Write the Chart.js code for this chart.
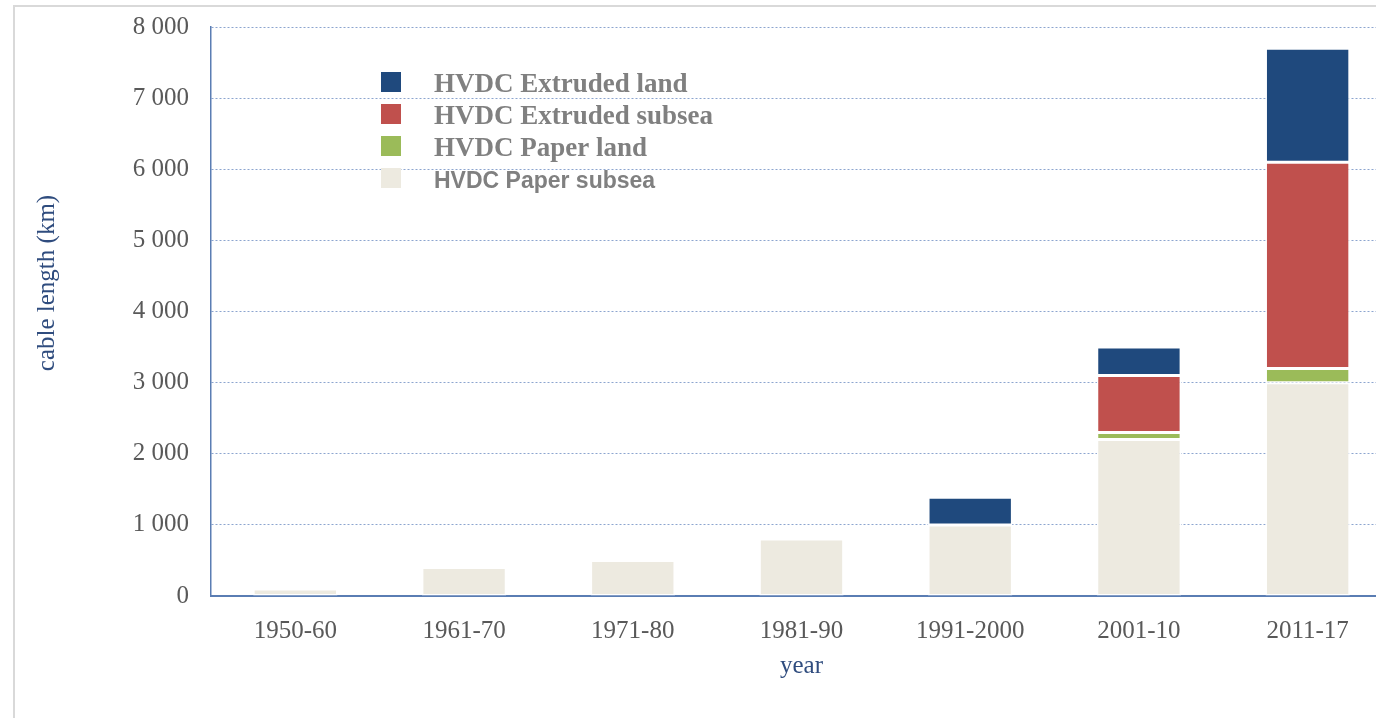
<!DOCTYPE html>
<html>
<head>
<meta charset="utf-8">
<title>HVDC cable length</title>
<script src="https://cdn.jsdelivr.net/npm/chart.js@4.4.1/dist/chart.umd.min.js"></script>
<style>
  html, body { margin: 0; padding: 0; background: #fff; overflow: hidden; }
  #frame { position: absolute; left: 13px; top: 5px; right: -10px; bottom: -10px;
           border-left: 2px solid #d9d9d9; border-top: 2px solid #d9d9d9; }
  #chart { position: absolute; left: 0; top: 0; }
</style>
</head>
<body>
<div id="frame"></div>
<canvas id="chart" width="1395" height="718"></canvas>
<script>
// Data (km)
const categories = ['1950-60', '1961-70', '1971-80', '1981-90', '1991-2000', '2001-10', '2011-17'];
const paperSubsea    = [100, 400, 500, 800, 1000, 2200, 3000];
const paperLand      = [0, 0, 0, 0, 0, 100, 200];
const extrudedSubsea = [0, 0, 0, 0, 0, 800, 2900];
const extrudedLand   = [0, 0, 0, 0, 390, 400, 1600];
const yTickValues = [0, 1000, 2000, 3000, 4000, 5000, 6000, 7000, 8000];
const yTickLabels = ['0', '1 000', '2 000', '3 000', '4 000', '5 000', '6 000', '7 000', '8 000'];
const yTitle = 'cable length (km)';
const xTitle = 'year';

const gray = '#595959';
const navy = '#2f4c7e';
const serif = '"Liberation Serif", serif';

// legend fonts, top entry first
const legendFonts = [
    'bold 27px "Liberation Serif"',
    'bold 27px "Liberation Serif"',
    'bold 27px "Liberation Serif"',
    'bold 23px "Liberation Sans"'
];

// Draws the y title and the legend inside the plot
const extras = {
    id: 'extras',
    afterDraw(chart) {
        const ctx = chart.ctx;
        ctx.save();
        ctx.translate(47, 283);
        ctx.rotate(-Math.PI / 2);
        ctx.font = '25px ' + serif;
        ctx.fillStyle = navy;
        ctx.textAlign = 'center';
        ctx.textBaseline = 'middle';
        ctx.fillText(yTitle, 0, 0);
        ctx.restore();

        ctx.save();
        const sets = chart.data.datasets.slice().reverse();
        sets.forEach((ds, i) => {
            const top = 72 + i * 32;
            ctx.fillStyle = ds.backgroundColor;
            ctx.fillRect(381, top, 20, 20);
            ctx.font = legendFonts[i];
            ctx.fillStyle = '#808080';
            ctx.textAlign = 'left';
            ctx.textBaseline = 'alphabetic';
            ctx.fillText(ds.label, 434, top + 20);
        });
        ctx.restore();
    }
};

function makeSet(label, data, color) {
    return {
        label: label,
        data: data,
        backgroundColor: color,
        borderColor: '#ffffff',
        borderWidth: 1.5,
        borderSkipped: false,
        barPercentage: 0.5,
        categoryPercentage: 1.0
    };
}

new Chart(document.getElementById('chart'), {
    type: 'bar',
    data: {
        labels: categories,
        datasets: [
            makeSet('HVDC Paper subsea', paperSubsea, '#edeae0'),
            makeSet('HVDC Paper land', paperLand, '#9bbb59'),
            makeSet('HVDC Extruded subsea', extrudedSubsea, '#c0504d'),
            makeSet('HVDC Extruded land', extrudedLand, '#1f497d')
        ]
    },
    options: {
        responsive: false,
        animation: false,
        devicePixelRatio: 1,
        layout: { padding: { top: 27, right: 3, bottom: 0, left: 0 } },
        plugins: {
            legend: { display: false },
            tooltip: { enabled: false }
        },
        scales: {
            x: {
                stacked: true,
                grid: { display: false },
                border: { display: true, color: '#5a7db3', width: 2 },
                ticks: {
                    color: gray,
                    font: { family: serif, size: 25 },
                    padding: 12,
                    maxRotation: 0,
                    autoSkip: false
                },
                title: {
                    display: true,
                    text: xTitle,
                    color: navy,
                    font: { family: serif, size: 25 },
                    padding: { top: 0, bottom: 37 }
                },
                afterFit(scale) { scale.height = 718 - 596; }
            },
            y: {
                stacked: true,
                min: 0,
                max: 8000,
                afterBuildTicks(scale) {
                    scale.ticks = yTickValues.map(v => ({ value: v }));
                },
                grid: { color: '#8ca5cf', lineWidth: 1, drawTicks: false },
                border: { display: true, color: '#5a7db3', width: 1.5, dash: [2, 2] },
                ticks: {
                    color: gray,
                    font: { family: serif, size: 25 },
                    padding: 22,
                    callback: (v) => yTickLabels[yTickValues.indexOf(v)]
                },
                afterFit(scale) {
                    scale.width = 211;
                    scale.paddingTop = 0;
                    scale.paddingBottom = 0;
                }
            }
        }
    },
    plugins: [extras]
});
</script>
</body>
</html>
